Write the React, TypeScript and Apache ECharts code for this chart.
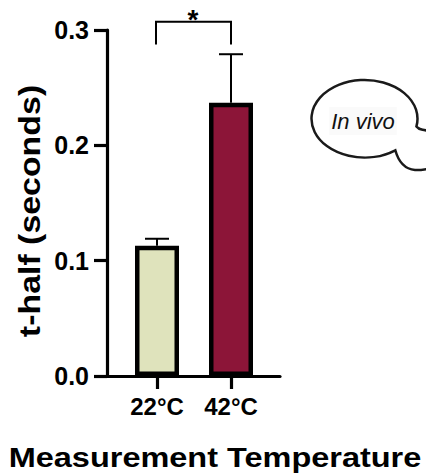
import { useEffect, useRef } from 'react';
import * as echarts from 'echarts';

const categories = ['22°C', '42°C'];
const meanValues = [0.113, 0.237];
const errorUpper = [0.006, 0.042];
const barColors = ['#DFE3BC', '#8C1538'];
const yMax = 0.3;
const yInterval = 0.1;
const sigPair = [0, 1];
const sigLevels = [0.3072, 0.2875];
const sigLabel = '*';
const xTitle = 'Measurement Temperature';
const yTitle = 't-half (seconds)';
const bubbleText = 'In vivo';

const FONT = '"Liberation Sans", Arial, Helvetica, sans-serif';

const bubblePath =
  'M 416.44 126.45 A 53 38.75 0 1 0 395.33 150.27 ' +
  'C 398 160 404 169 415 170 C 420 170.5 425 169.5 432 168 ' +
  'L 432 131 C 425 130.5 419 130 416.44 126.45 Z';

echarts.graphic.registerShape('bubble', echarts.graphic.extendPath(bubblePath, {}));

export default function App() {
  const ref = useRef<HTMLDivElement>(null);

  useEffect(() => {
    if (!ref.current) return;
    const chart = echarts.init(ref.current, undefined, { renderer: 'svg' });

    const axisLineStyle = { width: 3.2, color: '#000' };

    chart.setOption({
      animation: false,
      backgroundColor: '#fff',
      grid: [
        { left: 120, right: 158, top: 30, bottom: 100 },
        { left: 107, right: 146, top: 30, bottom: 100 },
      ],
      xAxis: [
        {
          type: 'category',
          gridIndex: 0,
          data: categories,
          axisLine: { show: false },
          axisTick: { show: true, alignWithLabel: true, length: 13, lineStyle: axisLineStyle },
          axisLabel: { margin: 18, fontSize: 24, fontWeight: 'bold', color: '#000', fontFamily: FONT },
          splitLine: { show: false },
        },
        {
          type: 'value',
          gridIndex: 1,
          min: 0,
          max: 1,
          axisLine: { show: true, lineStyle: axisLineStyle },
          axisTick: { show: false },
          axisLabel: { show: false },
          splitLine: { show: false },
        },
      ],
      yAxis: [
        {
          type: 'value',
          gridIndex: 0,
          min: 0,
          max: yMax,
          interval: yInterval,
          offset: 13,
          axisLine: { show: true, lineStyle: axisLineStyle },
          axisTick: { show: true, length: 13, lineStyle: axisLineStyle },
          axisLabel: {
            margin: 18,
            fontSize: 25,
            fontWeight: 'bold',
            color: '#000',
            fontFamily: FONT,
            formatter: (v: number) => v.toFixed(1),
          },
          splitLine: { show: false },
        },
        { type: 'value', gridIndex: 1, show: false, min: 0, max: 1 },
      ],
      series: [
        {
          type: 'custom',
          xAxisIndex: 0,
          yAxisIndex: 0,
          z: 1,
          encode: { x: 0, y: [1, 2] },
          data: categories.map((_, i) => [i, meanValues[i], meanValues[i] + errorUpper[i]]),
          renderItem: (_params: any, api: any) => {
            const base = api.coord([api.value(0), api.value(1)]);
            const top = api.coord([api.value(0), api.value(2)]);
            const half = 12;
            const st = { stroke: '#000', lineWidth: 2 };
            return {
              type: 'group',
              children: [
                { type: 'line', shape: { x1: base[0], y1: base[1], x2: top[0], y2: top[1] }, style: st },
                { type: 'line', shape: { x1: top[0] - half, y1: top[1], x2: top[0] + half, y2: top[1] }, style: st },
              ],
            };
          },
        },
        {
          type: 'bar',
          xAxisIndex: 0,
          yAxisIndex: 0,
          z: 2,
          barWidth: 44,
          data: meanValues.map((v, i) => ({ value: v, itemStyle: { color: barColors[i] } })),
          itemStyle: { borderColor: '#000', borderWidth: 4.5 },
        },
        {
          type: 'custom',
          xAxisIndex: 0,
          yAxisIndex: 0,
          z: 3,
          encode: { x: [0, 1], y: [2, 3] },
          data: [[sigPair[0], sigPair[1], sigLevels[0], sigLevels[1]]],
          renderItem: (_params: any, api: any) => {
            const p0 = api.coord([api.value(0), api.value(2)]);
            const p1 = api.coord([api.value(1), api.value(2)]);
            const legY = api.coord([api.value(0), api.value(3)])[1];
            return {
              type: 'group',
              children: [
                {
                  type: 'polyline',
                  shape: { points: [[p0[0] - 1, legY], [p0[0] - 1, p0[1]], [p1[0], p0[1]], [p1[0], legY]] },
                  style: { stroke: '#000', lineWidth: 2, fill: 'none' },
                },
                {
                  type: 'text',
                  x: (p0[0] + p1[0]) / 2 - 1,
                  y: p0[1] - 2,
                  style: {
                    text: sigLabel,
                    fontSize: 28,
                    fontWeight: 'bold',
                    fontFamily: FONT,
                    fill: '#000',
                    align: 'center',
                    verticalAlign: 'middle',
                  },
                },
              ],
            };
          },
        },
      ],
      graphic: [
        {
          type: 'text',
          x: 215,
          y: 457,
          scaleX: 1.16,
          style: {
            text: xTitle,
            fontSize: 28,
            fontWeight: 'bold',
            fontFamily: FONT,
            fill: '#000',
            align: 'center',
            verticalAlign: 'middle',
          },
        },
        {
          type: 'text',
          x: 30,
          y: 211,
          rotation: Math.PI / 2,
          scaleX: 1.13,
          style: {
            text: yTitle,
            fontSize: 30,
            fontWeight: 'bold',
            fontFamily: FONT,
            fill: '#000',
            align: 'center',
            verticalAlign: 'middle',
          },
        },
        {
          type: 'bubble',
          x: 0,
          y: 0,
          style: { fill: '#fff', stroke: '#1a1a1a', lineWidth: 2.5 },
        },
        {
          type: 'text',
          x: 363,
          y: 121,
          style: {
            text: bubbleText,
            fontSize: 22,
            fontStyle: 'italic',
            fontFamily: FONT,
            fill: '#111',
            align: 'center',
            verticalAlign: 'middle',
            backgroundColor: '#fafafa',
            padding: [3, 2],
          },
        },
      ],
    });

    return () => chart.dispose();
  }, []);

  return (
    <div
      ref={ref}
      style={{ position: 'fixed', left: 0, top: 0, width: 426, height: 476, background: '#fff' }}
    />
  );
}
